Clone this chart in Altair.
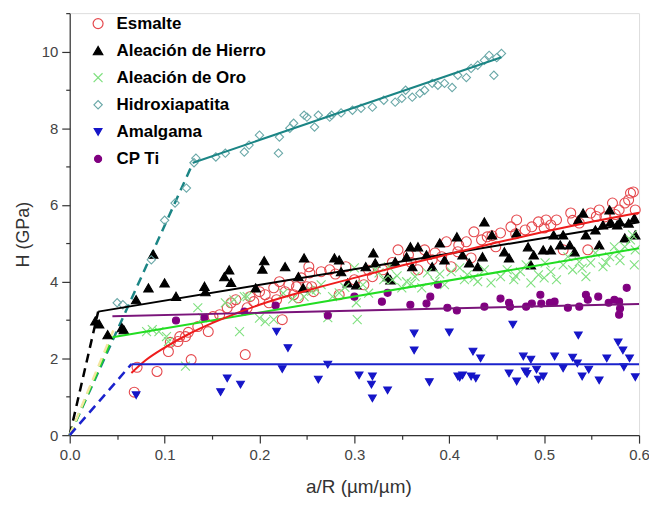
import altair as alt
import pandas as pd

# ---------------- data ----------------
series_names = ["Esmalte", "Aleación de Hierro", "Aleación de Oro",
                "Hidroxiapatita", "Amalgama", "CP Ti"]

esmalte = [
    (0.068, 1.12), (0.071, 1.77), (0.092, 1.66), (0.104, 2.18), (0.106, 2.42),
    (0.114, 2.44), (0.116, 2.57), (0.122, 2.57), (0.125, 2.68), (0.128, 1.97),
    (0.135, 2.83), (0.146, 2.70), (0.151, 3.09), (0.158, 3.14), (0.166, 3.32),
    (0.170, 3.45), (0.175, 3.53), (0.185, 2.10), (0.187, 3.32), (0.190, 3.61),
    (0.194, 3.48), (0.200, 3.74), (0.206, 3.66), (0.210, 3.45), (0.215, 3.84),
    (0.218, 3.53), (0.221, 4.00), (0.224, 3.01), (0.227, 3.74), (0.231, 3.92),
    (0.236, 3.66), (0.239, 3.87), (0.241, 3.58), (0.244, 4.10), (0.250, 3.87),
    (0.252, 4.39), (0.253, 4.23), (0.255, 3.87), (0.257, 3.74), (0.265, 4.26),
    (0.274, 4.31), (0.280, 4.20), (0.284, 3.66), (0.291, 4.39), (0.300, 4.05),
    (0.310, 3.92), (0.315, 4.30), (0.319, 4.13), (0.330, 4.31), (0.340, 4.50),
    (0.346, 4.83), (0.357, 4.70), (0.360, 4.50), (0.367, 4.31), (0.374, 4.83),
    (0.382, 4.57), (0.385, 4.75), (0.392, 4.65), (0.397, 5.04), (0.402, 4.39),
    (0.409, 4.78), (0.410, 4.95), (0.418, 5.04), (0.423, 4.62), (0.426, 5.30),
    (0.434, 5.09), (0.440, 5.17), (0.445, 5.20), (0.449, 4.91), (0.454, 5.27),
    (0.465, 5.43), (0.470, 5.25), (0.471, 5.61), (0.480, 5.35), (0.487, 5.43),
    (0.494, 5.56), (0.500, 5.40), (0.502, 5.61), (0.507, 5.48), (0.513, 5.61),
    (0.520, 4.83), (0.528, 5.79), (0.530, 5.60), (0.537, 5.53), (0.546, 4.83),
    (0.549, 5.79), (0.555, 5.70), (0.558, 5.87), (0.564, 5.69), (0.572, 6.05),
    (0.575, 5.75), (0.579, 5.87), (0.585, 6.05), (0.589, 6.13), (0.591, 6.31),
    (0.594, 6.34), (0.596, 5.87),
]

hierro = [
    (0.027, 2.98), (0.031, 2.90), (0.040, 2.62), (0.055, 2.80), (0.057, 2.75),
    (0.070, 3.53), (0.083, 3.84), (0.088, 4.72), (0.100, 3.97), (0.112, 3.62),
    (0.142, 3.88), (0.143, 3.74), (0.163, 4.13), (0.168, 4.31), (0.170, 3.98),
    (0.196, 3.84), (0.203, 4.33), (0.205, 4.55), (0.227, 4.39), (0.241, 4.13),
    (0.246, 3.84), (0.247, 4.62), (0.279, 4.62), (0.284, 4.57), (0.286, 4.26),
    (0.293, 3.97), (0.302, 3.92), (0.312, 4.39), (0.320, 4.75), (0.322, 4.49),
    (0.335, 4.13), (0.338, 4.05), (0.343, 4.52), (0.355, 4.65), (0.359, 4.91),
    (0.361, 4.39), (0.367, 4.91), (0.376, 4.70), (0.382, 4.39), (0.390, 5.01),
    (0.395, 4.57), (0.408, 5.17), (0.414, 4.70), (0.421, 4.49), (0.430, 4.39),
    (0.435, 4.65), (0.437, 5.56), (0.445, 5.22), (0.458, 4.78), (0.463, 4.62),
    (0.471, 5.27), (0.483, 4.91), (0.486, 4.44), (0.489, 4.70), (0.499, 4.83),
    (0.507, 4.83), (0.510, 5.22), (0.517, 4.96), (0.520, 5.22), (0.527, 4.96),
    (0.532, 4.78), (0.536, 5.61), (0.541, 5.79), (0.544, 5.22), (0.554, 5.35),
    (0.558, 4.96), (0.562, 5.48), (0.569, 5.87), (0.570, 5.56), (0.577, 5.48),
    (0.580, 5.56), (0.585, 5.14), (0.589, 5.53), (0.595, 5.66), (0.596, 5.22),
]

oro = [
    (0.081, 2.70), (0.087, 2.75), (0.094, 2.70), (0.102, 2.57), (0.104, 2.44),
    (0.122, 1.80), (0.135, 3.32), (0.140, 3.06), (0.164, 3.45), (0.173, 3.53),
    (0.179, 2.70), (0.184, 3.61), (0.187, 3.61), (0.200, 3.05), (0.206, 2.96),
    (0.215, 3.01), (0.225, 3.70), (0.235, 3.55), (0.247, 3.61), (0.255, 3.75),
    (0.260, 3.79), (0.265, 3.92), (0.272, 3.06), (0.277, 3.61), (0.284, 3.71),
    (0.290, 3.85), (0.300, 4.36), (0.302, 3.45), (0.303, 3.01), (0.309, 3.92),
    (0.315, 3.70), (0.322, 4.31), (0.326, 4.23), (0.331, 4.05), (0.336, 4.39),
    (0.340, 4.05), (0.345, 4.15), (0.350, 3.84), (0.355, 4.00), (0.360, 3.95),
    (0.364, 4.13), (0.371, 3.84), (0.377, 4.23), (0.385, 4.00), (0.390, 4.20),
    (0.395, 3.92), (0.402, 4.26), (0.411, 4.36), (0.416, 4.05), (0.419, 4.18),
    (0.426, 4.10), (0.430, 4.00), (0.437, 4.31), (0.444, 3.97), (0.454, 4.13),
    (0.461, 4.31), (0.468, 4.05), (0.470, 4.15), (0.475, 4.26), (0.481, 4.44),
    (0.486, 3.97), (0.494, 4.18), (0.500, 4.10), (0.501, 4.49), (0.507, 4.26),
    (0.513, 4.05), (0.520, 4.44), (0.525, 4.65), (0.530, 4.31), (0.537, 4.52),
    (0.540, 4.35), (0.544, 4.13), (0.549, 4.49), (0.554, 4.75), (0.562, 4.39),
    (0.565, 4.50), (0.569, 4.65), (0.574, 4.91), (0.579, 4.75), (0.580, 4.55),
    (0.585, 4.91), (0.591, 5.09), (0.593, 5.22), (0.595, 4.44), (0.596, 4.83),
]

hidroxiapatita = [
    (0.050, 3.45), (0.056, 3.40), (0.086, 4.57), (0.100, 5.60), (0.111, 6.05),
    (0.123, 6.44), (0.131, 7.10), (0.133, 7.22), (0.154, 7.25), (0.164, 7.35),
    (0.184, 7.38), (0.189, 7.56), (0.200, 7.82), (0.220, 7.35), (0.221, 7.77),
    (0.232, 8.00), (0.236, 8.13), (0.247, 8.34), (0.250, 8.29), (0.258, 8.03),
    (0.262, 8.34), (0.274, 8.29), (0.276, 8.34), (0.286, 8.40), (0.298, 8.47),
    (0.307, 8.52), (0.319, 8.55), (0.331, 8.73), (0.343, 8.68), (0.350, 8.78),
    (0.354, 8.99), (0.361, 8.81), (0.369, 8.91), (0.374, 8.99), (0.382, 9.17),
    (0.388, 9.12), (0.395, 9.17), (0.403, 9.06), (0.409, 9.38), (0.418, 9.32),
    (0.423, 9.56), (0.430, 9.64), (0.437, 9.77), (0.442, 9.90), (0.447, 9.38),
    (0.450, 9.84), (0.455, 9.95),
]

amalgama = [
    (0.070, 1.04), (0.159, 1.12), (0.166, 1.48), (0.180, 1.32), (0.218, 2.70),
    (0.224, 1.72), (0.230, 2.27), (0.262, 1.45), (0.272, 1.84), (0.305, 1.56),
    (0.318, 1.32), (0.319, 1.53), (0.319, 0.96), (0.335, 1.17), (0.363, 2.65),
    (0.363, 2.21), (0.379, 1.38), (0.400, 2.68), (0.409, 1.53), (0.411, 1.50),
    (0.414, 1.56), (0.423, 1.53), (0.428, 1.48), (0.425, 2.18), (0.433, 2.00),
    (0.463, 1.61), (0.467, 2.88), (0.471, 1.40), (0.478, 2.05), (0.480, 1.66),
    (0.482, 1.60), (0.486, 1.97), (0.492, 1.71), (0.494, 1.45), (0.499, 1.53),
    (0.511, 2.05), (0.520, 1.74), (0.530, 2.02), (0.536, 2.60), (0.535, 1.87),
    (0.540, 1.53), (0.547, 1.71), (0.558, 1.43), (0.566, 2.00), (0.578, 2.42),
    (0.583, 2.21), (0.584, 1.77), (0.590, 2.00), (0.596, 1.51),
]

cp_ti = [
    (0.112, 2.99), (0.142, 3.06), (0.184, 3.22), (0.217, 3.38), (0.272, 3.12),
    (0.300, 3.61), (0.329, 3.48), (0.335, 3.71), (0.359, 3.40), (0.376, 3.43),
    (0.380, 3.61), (0.388, 3.92), (0.398, 3.32), (0.408, 3.25), (0.437, 3.35),
    (0.454, 3.56), (0.463, 3.45), (0.464, 3.35), (0.481, 3.35), (0.487, 3.43),
    (0.496, 3.66), (0.497, 3.43), (0.506, 3.45), (0.511, 3.48), (0.525, 3.32),
    (0.537, 3.35), (0.544, 3.66), (0.546, 3.53), (0.557, 3.61), (0.568, 3.45),
    (0.574, 3.53), (0.579, 3.48), (0.579, 3.14), (0.580, 3.30), (0.587, 3.84),
]

# fitted curves (solid) and extrapolations to the origin (dashed)
solid_fit_names = ["Hidroxiapatita fit", "Hierro fit", "Oro fit",
                   "Esmalte fit", "Amalgama fit", "CP Ti fit"]
solid_fits = [
    [(0.13, 7.10), (0.455, 9.85)],
    [(0.03, 3.22), (0.60, 5.55)],
    [(0.045, 2.55), (0.60, 4.87)],
    [(0.065, 1.62), (0.08, 1.95), (0.10, 2.28), (0.125, 2.63), (0.15, 2.92),
     (0.175, 3.17), (0.20, 3.40), (0.25, 3.77), (0.30, 4.10), (0.35, 4.42),
     (0.40, 4.72), (0.45, 5.02), (0.50, 5.30), (0.55, 5.56), (0.60, 5.80)],
    [(0.065, 1.85), (0.60, 1.85)],
    [(0.045, 3.10), (0.60, 3.42)],
]
dashed_fit_names = ["Hidroxiapatita ext", "Hierro ext", "Oro ext",
                    "Pale ext", "Amalgama ext"]
dashed_fits = [
    [(0.0, 0.0), (0.13, 7.10)],
    [(0.0, 0.0), (0.03, 3.22)],
    [(0.0, 0.0), (0.045, 2.55)],
    [(0.0, 0.0), (0.048, 2.85)],
    [(0.0, 0.0), (0.065, 1.85)],
]

x_major = [0.0, 0.1, 0.2, 0.3, 0.4, 0.5, 0.6]
x_minor = [0.05, 0.15, 0.25, 0.35, 0.45, 0.55]
y_major = [0, 2, 4, 6, 8, 10]
y_minor = [1, 3, 5, 7, 9, 11]

# ---------------- styles ----------------
marker_shapes = ["circle", "triangle-up", "M-1,-1L1,1M-1,1L1,-1",
                 "diamond", "triangle-down", "circle"]
marker_stroke = ["#e5484d", "#000000", "#7fe07f", "#6aa8a8", "#1515c8", "#800080"]
marker_fill = ["transparent", "#000000", "transparent", "transparent", "#1515c8", "#800080"]
marker_size = [100, 50, 55, 85, 50, 100]

solid_colors = ["#1b8585", "#000000", "#22dd22", "#ee1c1c", "#1a22cc", "#7a147a"]
dashed_colors = ["#1b8585", "#000000", "#22dd22", "#f3e6a0", "#1a22cc"]

# ---------------- tables ----------------
rows = []
for name, pts in zip(series_names, [esmalte, hierro, oro, hidroxiapatita, amalgama, cp_ti]):
    for x, y in pts:
        rows.append({"series": name, "x": x, "y": y})
points_df = pd.DataFrame(rows)

srows = []
for name, pts in zip(solid_fit_names, solid_fits):
    for i, (x, y) in enumerate(pts):
        srows.append({"fit": name, "x": x, "y": y, "i": i})
solid_df = pd.DataFrame(srows)

drows = []
for name, pts in zip(dashed_fit_names, dashed_fits):
    for i, (x, y) in enumerate(pts):
        drows.append({"fit": name, "x": x, "y": y, "i": i})
dashed_df = pd.DataFrame(drows)

xs = alt.Scale(domain=[0, 0.6], nice=False, zero=False)
ys = alt.Scale(domain=[0, 11], nice=False, zero=False)

FONT = "Liberation Sans"
AX = "#333333"

x_axis_major = alt.Axis(values=x_major, format=".1f", orient="bottom", grid=False,
                        tickSize=8, tickColor=AX, domainColor=AX, tickWidth=1.2, domainWidth=1.2,
                        labelFont=FONT, labelFontSize=15, labelColor="#444444", labelPadding=4,
                        labelFlush=False,
                        title="a/R (µm/µm)", titleFont=FONT, titleFontSize=19,
                        titleFontWeight="normal", titleColor="#333333",
                        titleX=290, titleY=43)
y_axis_major = alt.Axis(values=y_major, format="d", orient="left", grid=False,
                        tickSize=8, tickColor=AX, domainColor=AX, tickWidth=1.2, domainWidth=1.2,
                        labelFont=FONT, labelFontSize=15, labelColor="#444444", labelPadding=4,
                        labelFlush=False,
                        title="H (GPa)", titleFont=FONT, titleFontSize=18,
                        titleFontWeight="normal", titleColor="#333333",
                        titleX=-37, titleY=222)
x_axis_minor = alt.Axis(values=x_minor, orient="bottom", grid=False, labels=False,
                        domain=False, tickSize=4, tickColor=AX, tickWidth=1.2, title=None)
y_axis_minor = alt.Axis(values=y_minor, orient="left", grid=False, labels=False,
                        domain=False, tickSize=4, tickColor=AX, tickWidth=1.2, title=None)

leg = alt.Legend(title=None, orient="none", legendX=20, legendY=2, padding=0,
                 labelFont=FONT, labelFontSize=17, labelFontWeight="bold",
                 labelColor="#000000", labelOffset=10, rowPadding=9.2,
                 labelLimit=400, symbolStrokeWidth=1.2)

points = alt.Chart(points_df).mark_point(opacity=1, strokeWidth=1.1).encode(
    x=alt.X("x:Q", scale=xs, axis=x_axis_major),
    y=alt.Y("y:Q", scale=ys, axis=y_axis_major),
    shape=alt.Shape("series:N", scale=alt.Scale(domain=series_names, range=marker_shapes), legend=leg),
    stroke=alt.Stroke("series:N", scale=alt.Scale(domain=series_names, range=marker_stroke), legend=leg),
    fill=alt.Fill("series:N", scale=alt.Scale(domain=series_names, range=marker_fill), legend=leg),
    size=alt.Size("series:N", scale=alt.Scale(domain=series_names, range=marker_size), legend=leg),
)

solid = alt.Chart(solid_df).mark_line(strokeWidth=2, interpolate="monotone").encode(
    x=alt.X("x:Q", scale=xs, axis=None),
    y=alt.Y("y:Q", scale=ys, axis=None),
    color=alt.Color("fit:N", scale=alt.Scale(domain=solid_fit_names + dashed_fit_names,
                                             range=solid_colors + dashed_colors), legend=None),
    order="i:Q",
)

dashed = alt.Chart(dashed_df).mark_line(strokeWidth=2.5, strokeDash=[9, 6]).encode(
    x=alt.X("x:Q", scale=xs, axis=x_axis_minor),
    y=alt.Y("y:Q", scale=ys, axis=y_axis_minor),
    color=alt.Color("fit:N", scale=alt.Scale(domain=solid_fit_names + dashed_fit_names,
                                             range=solid_colors + dashed_colors), legend=None),
    order="i:Q",
)

chart = alt.layer(dashed, points, solid).resolve_axis(
    x="independent", y="independent"
).properties(
    width=572, height=424,
    autosize=alt.AutoSizeParams(type="none"),
    padding={"left": 62, "top": 4, "right": 10, "bottom": 66},
).configure_view(stroke=None).configure(background="white")

chart.save("out.html", embed_options={"renderer": "svg", "actions": False})
